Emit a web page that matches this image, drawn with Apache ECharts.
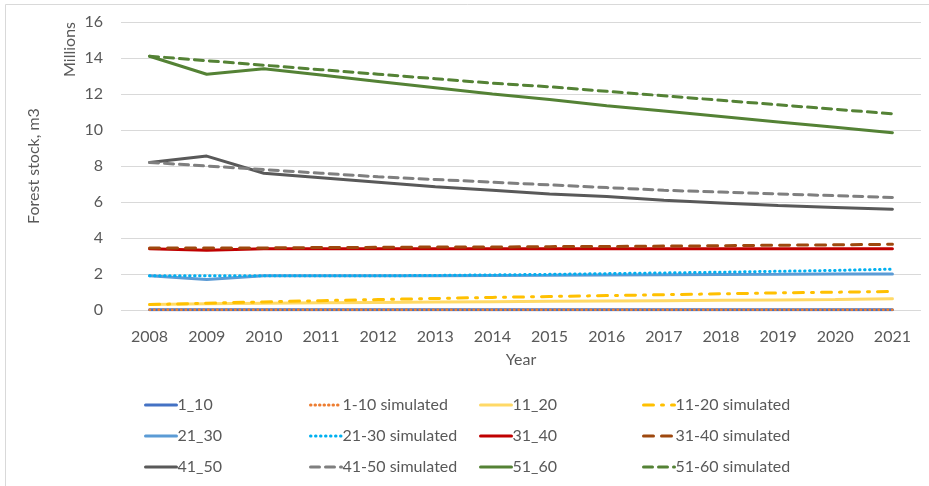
<!DOCTYPE html>
<html>
<head>
<meta charset="utf-8">
<script src="https://cdn.jsdelivr.net/npm/echarts@6/dist/echarts.min.js"></script>
<style>
  html, body { margin: 0; padding: 0; background: #fff; }
  #chart { width: 929px; height: 486px; }
</style>
</head>
<body>
<div id="chart"></div>
<script>
// data (millions of m3)
const years = ["2008", "2009", "2010", "2011", "2012", "2013", "2014", "2015", "2016", "2017", "2018", "2019", "2020", "2021"];

const s1_10 = [0.02, 0.02, 0.02, 0.02, 0.02, 0.02, 0.02, 0.02, 0.02, 0.02, 0.02, 0.02, 0.02, 0.02];
const s1_10sim = [0.02, 0.02, 0.02, 0.02, 0.02, 0.02, 0.02, 0.02, 0.02, 0.02, 0.02, 0.02, 0.02, 0.02];
const s11_20 = [0.3, 0.35, 0.38, 0.4, 0.42, 0.44, 0.46, 0.48, 0.5, 0.52, 0.54, 0.56, 0.58, 0.62];
const s11_20sim = [0.3, 0.38, 0.45, 0.52, 0.58, 0.64, 0.7, 0.75, 0.8, 0.85, 0.9, 0.95, 0.99, 1.03];
const s21_30 = [1.9, 1.7, 1.9, 1.9, 1.9, 1.9, 1.92, 1.93, 1.95, 1.96, 1.97, 1.98, 2.0, 2.0];
const s21_30sim = [1.9, 1.9, 1.9, 1.9, 1.9, 1.92, 1.95, 1.98, 2.02, 2.06, 2.1, 2.15, 2.2, 2.27];
const s31_40 = [3.4, 3.32, 3.4, 3.4, 3.4, 3.4, 3.4, 3.4, 3.4, 3.4, 3.4, 3.4, 3.4, 3.4];
const s31_40sim = [3.45, 3.45, 3.45, 3.47, 3.48, 3.5, 3.5, 3.52, 3.53, 3.55, 3.57, 3.6, 3.62, 3.65];
const s41_50 = [8.2, 8.55, 7.6, 7.35, 7.1, 6.85, 6.65, 6.45, 6.3, 6.1, 5.95, 5.8, 5.7, 5.6];
const s41_50sim = [8.2, 8.0, 7.8, 7.6, 7.4, 7.25, 7.1, 6.95, 6.8, 6.65, 6.55, 6.45, 6.35, 6.25];
const s51_60 = [14.1, 13.1, 13.4, 13.05, 12.7, 12.35, 12.0, 11.7, 11.35, 11.05, 10.75, 10.45, 10.15, 9.85];
const s51_60sim = [14.1, 13.85, 13.6, 13.35, 13.1, 12.85, 12.6, 12.4, 12.15, 11.9, 11.65, 11.4, 11.15, 10.9];

const yTicks = [0, 2, 4, 6, 8, 10, 12, 14, 16];

const textColor = "#595959";
const font = "Lato";
const fs = 16;

const mk = (name, data, color, type, z) => ({
  name: name,
  type: "line",
  data: data,
  symbol: "none",
  smooth: false,
  animation: false,
  z: z || 2,
  lineStyle: { color: color, width: 3, type: type || "solid", cap: "round" },
  itemStyle: { color: color },
});

const series = [
  mk("1_10", s1_10, "#4472C4", "solid", 2),
  mk("1-10 simulated", s1_10sim, "#ED7D31", [0.5, 4], 3),
  mk("11_20", s11_20, "#FFD966", "solid", 2),
  mk("11-20 simulated", s11_20sim, "#FFC000", [10, 8, 2, 8], 3),
  mk("21_30", s21_30, "#5B9BD5", "solid", 2),
  mk("21-30 simulated", s21_30sim, "#00B0F0", [0.5, 4.5], 3),
  mk("31_40", s31_40, "#C00000", "solid", 2),
  mk("31-40 simulated", s31_40sim, "#9E480E", [10, 8], 3),
  mk("41_50", s41_50, "#595959", "solid", 2),
  mk("41-50 simulated", s41_50sim, "#7F7F7F", [9, 6], 3),
  mk("51_60", s51_60, "#548235", "solid", 2),
  mk("51-60 simulated", s51_60sim, "#548235", [9, 6], 3),
];
series[1].lineStyle.width = 2.5;

// 4 legend columns, 3 rows each
const cols = [
  ["1_10", "21_30", "41_50"],
  ["1-10 simulated", "21-30 simulated", "41-50 simulated"],
  ["11_20", "31_40", "51_60"],
  ["11-20 simulated", "31-40 simulated", "51-60 simulated"],
];
const colLeft = [139, 304, 474, 637];
const legends = cols.map((names, i) => ({
  data: names,
  orient: "vertical",
  left: colLeft[i],
  top: 392,
  itemWidth: 31,
  itemHeight: 14,
  itemGap: 15,
  selectedMode: false,
  itemStyle: { opacity: 0 },
  lineStyle: { width: 3 },
  textStyle: { color: textColor, fontFamily: font, fontSize: fs, padding: [0, 0, 0, -4] },
}));

const option = {
  backgroundColor: "#fff",
  legend: legends,
  grid: { left: 121, right: 8, top: 22, bottom: 176 },
  xAxis: {
    type: "category",
    data: years,
    boundaryGap: true,
    name: "Year",
    nameLocation: "middle",
    nameGap: 42,
    nameTextStyle: { color: textColor, fontFamily: font, fontSize: fs },
    axisLine: { show: false },
    axisTick: { show: false },
    axisLabel: { color: textColor, fontFamily: font, fontSize: fs, margin: 19 },
  },
  yAxis: {
    type: "value",
    min: 0,
    max: 16,
    interval: 2,
    name: "Forest stock, m3",
    nameLocation: "middle",
    nameGap: 79,
    nameRotate: 90,
    nameTextStyle: { color: textColor, fontFamily: font, fontSize: fs },
    axisLine: { show: false },
    axisTick: { show: false },
    axisLabel: {
      color: textColor, fontFamily: font, fontSize: fs, margin: 18,
      formatter: (v) => (yTicks.indexOf(v) >= 0 ? String(v) : ""),
    },
    splitLine: { lineStyle: { color: "#D9D9D9", width: 1 } },
  },
  graphic: [
    {
      type: "text",
      left: 62,
      top: 22,
      rotation: Math.PI / 2,
      style: { text: "Millions", fill: textColor, font: fs + "px " + font },
    },
    {
      type: "line",
      shape: { x1: 5.5, y1: 4.5, x2: 929, y2: 4.5 },
      style: { stroke: "#D9D9D9", lineWidth: 1 },
      silent: true,
    },
    {
      type: "line",
      shape: { x1: 5.5, y1: 4.5, x2: 5.5, y2: 486 },
      style: { stroke: "#D9D9D9", lineWidth: 1 },
      silent: true,
    },
  ],
  series: series,
};

const chart = echarts.init(document.getElementById("chart"), null, { renderer: "canvas" });
chart.setOption(option);
</script>
</body>
</html>
